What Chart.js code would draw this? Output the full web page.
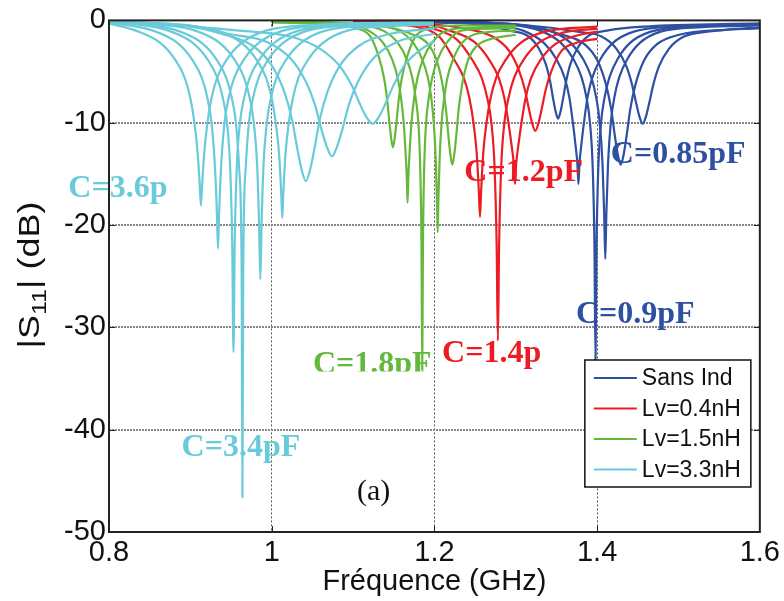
<!DOCTYPE html>
<html>
<head>
<meta charset="utf-8">
<script src="https://cdn.jsdelivr.net/npm/chart.js@4.4.0/dist/chart.umd.min.js"></script>
<style>
  html, body { margin: 0; padding: 0; background: #fff; }
  #wrap { width: 784px; height: 601px; }
</style>
</head>
<body>
<div id="wrap"><canvas id="s11Chart" width="784" height="601"></canvas></div>
<script>
// |S11| (dB) vs frequency (GHz), one curve per capacitor value, pairs are [freq, dB]
const sansInd = [
  [[1.20,-0.2],[1.26,-0.45],[1.292,-1.0],[1.3145,-1.5],[1.328,-2.7],[1.337,-4.3],[1.3423,-6.0],[1.346,-7.7],[1.349,-8.9],[1.352,-9.6],[1.355,-8.9],[1.358,-7.7],[1.3618,-6.0],[1.367,-4.3],[1.376,-2.7],[1.3895,-1.5],[1.412,-1.0],[1.46,-0.6],[1.6,-0.3]],
  [[1.20,-0.15],[1.27,-0.4],[1.309,-1.0],[1.3345,-2.2],[1.350,-3.8],[1.360,-5.6],[1.366,-7.6],[1.3702,-10],[1.3736,-12.3],[1.3757,-14],[1.377,-16],[1.3783,-14],[1.3804,-12.3],[1.3838,-10],[1.388,-7.6],[1.394,-5.6],[1.404,-3.8],[1.4195,-2.2],[1.445,-1.1],[1.5,-0.6],[1.6,-0.4]],
  [[1.20,-0.12],[1.29,-0.4],[1.33,-1.0],[1.3555,-2.2],[1.371,-3.8],[1.381,-5.6],[1.387,-7.6],[1.3912,-10],[1.3946,-14.5],[1.3967,-22],[1.398,-33.3],[1.3993,-22],[1.4014,-14.5],[1.4048,-10],[1.409,-7.6],[1.415,-5.6],[1.425,-3.8],[1.4405,-2.2],[1.466,-1.1],[1.52,-0.6],[1.6,-0.45]],
  [[1.20,-0.1],[1.30,-0.4],[1.342,-1.0],[1.3675,-2.2],[1.383,-3.8],[1.393,-5.6],[1.399,-7.6],[1.4032,-10],[1.4066,-14],[1.4087,-19],[1.410,-23.3],[1.4113,-19],[1.4134,-14],[1.4168,-10],[1.421,-7.6],[1.427,-5.6],[1.437,-3.8],[1.4525,-2.2],[1.478,-1.1],[1.53,-0.65],[1.6,-0.5]],
  [[1.20,-0.1],[1.30,-0.4],[1.357,-1.4],[1.384,-2.3],[1.4002,-3.9],[1.411,-6.3],[1.4173,-8.7],[1.4218,-11.3],[1.4254,-13.1],[1.429,-14.1],[1.4326,-13.1],[1.4362,-11.3],[1.4407,-8.7],[1.447,-6.3],[1.4578,-3.9],[1.474,-2.3],[1.501,-1.4],[1.559,-0.9],[1.6,-0.7]],
  [[1.20,-0.1],[1.31,-0.45],[1.376,-1.1],[1.406,-1.6],[1.424,-2.8],[1.436,-4.5],[1.443,-6.3],[1.448,-8.1],[1.452,-9.4],[1.456,-10.1],[1.460,-9.4],[1.464,-8.1],[1.469,-6.3],[1.476,-4.5],[1.488,-2.8],[1.506,-1.6],[1.536,-1.1],[1.6,-0.75]]
];

const lv04 = [
  [[1.10,-0.15],[1.15,-0.35],[1.176,-0.6],[1.206,-1.6],[1.224,-3.8],[1.236,-5.6],[1.243,-7.6],[1.248,-10],[1.252,-13],[1.2545,-16.5],[1.256,-19.2],[1.2575,-16.5],[1.260,-13],[1.264,-10],[1.269,-7.6],[1.276,-5.6],[1.288,-3.8],[1.306,-2.2],[1.336,-1.1],[1.4,-0.6]],
  [[1.10,-0.12],[1.17,-0.35],[1.198,-0.8],[1.228,-1.9],[1.246,-3.8],[1.258,-5.6],[1.265,-7.6],[1.270,-10],[1.274,-14.5],[1.2765,-22],[1.278,-31.3],[1.2795,-22],[1.282,-14.5],[1.286,-10],[1.291,-7.6],[1.298,-5.6],[1.310,-3.8],[1.328,-2.2],[1.358,-1.2],[1.4,-0.8]],
  [[1.10,-0.1],[1.19,-0.4],[1.219,-1.0],[1.249,-2.1],[1.267,-3.8],[1.279,-5.6],[1.286,-7.6],[1.291,-10],[1.295,-12.3],[1.2975,-14],[1.299,-16],[1.3005,-14],[1.303,-12.3],[1.307,-10],[1.312,-7.6],[1.319,-5.6],[1.331,-3.8],[1.349,-2.3],[1.379,-1.4],[1.4,-1.1]],
  [[1.10,-0.1],[1.20,-0.4],[1.25,-1.0],[1.274,-1.7],[1.292,-3.0],[1.304,-4.9],[1.311,-6.7],[1.316,-8.6],[1.320,-10.0],[1.324,-10.8],[1.328,-10.0],[1.332,-8.6],[1.337,-6.7],[1.344,-4.9],[1.356,-3.0],[1.374,-2.2],[1.4,-1.8]]
];

const lv15 = [
  [[1.00,-0.2],[1.07,-0.4],[1.105,-0.8],[1.1215,-1.6],[1.1314,-3.5],[1.138,-5.6],[1.1418,-7.7],[1.1446,-9.9],[1.1468,-11.5],[1.149,-12.4],[1.1512,-11.5],[1.1534,-9.9],[1.1562,-7.7],[1.160,-5.6],[1.1666,-3.5],[1.1765,-1.6],[1.193,-0.8],[1.228,-0.5],[1.3,-0.5]],
  [[1.00,-0.15],[1.09,-0.4],[1.119,-1.0],[1.137,-2.2],[1.148,-3.8],[1.1548,-5.6],[1.159,-7.6],[1.1622,-10],[1.1646,-13],[1.1661,-15.5],[1.167,-17.8],[1.1679,-15.5],[1.1694,-13],[1.1718,-10],[1.175,-7.6],[1.1792,-5.6],[1.186,-3.8],[1.197,-2.2],[1.215,-1.0],[1.25,-0.7],[1.3,-0.6]],
  [[1.00,-0.12],[1.10,-0.4],[1.137,-1.0],[1.155,-2.2],[1.166,-3.8],[1.1728,-5.6],[1.177,-7.6],[1.1802,-10],[1.1826,-14.5],[1.1841,-22],[1.185,-34.2],[1.1859,-22],[1.1874,-14.5],[1.1898,-10],[1.193,-7.6],[1.1972,-5.6],[1.204,-3.8],[1.215,-2.2],[1.233,-1.0],[1.27,-0.8],[1.3,-0.75]],
  [[1.00,-0.1],[1.12,-0.45],[1.156,-1.0],[1.174,-2.2],[1.185,-3.8],[1.192,-5.6],[1.1962,-7.6],[1.1992,-10],[1.2016,-13.5],[1.2031,-17.5],[1.204,-20.7],[1.2049,-17.5],[1.2064,-13.5],[1.2088,-10],[1.212,-7.6],[1.216,-5.6],[1.223,-3.8],[1.234,-2.2],[1.252,-1.3],[1.3,-1.0]],
  [[1.00,-0.1],[1.13,-0.5],[1.174,-1.4],[1.192,-2.3],[1.2028,-3.9],[1.210,-6.3],[1.2142,-8.7],[1.2172,-11.3],[1.2196,-13.1],[1.222,-14.1],[1.2244,-13.1],[1.2268,-11.3],[1.2298,-8.7],[1.234,-6.3],[1.2412,-3.9],[1.252,-2.5],[1.27,-1.8],[1.3,-1.4]]
];

const lv33 = [
  [[0.80,-0.3],[0.833,-1.0],[0.863,-2.2],[0.881,-3.8],[0.893,-5.6],[0.900,-7.6],[0.905,-10],[0.909,-13],[0.9115,-16],[0.913,-18.1],[0.9145,-16],[0.917,-13],[0.921,-10],[0.926,-7.6],[0.933,-5.6],[0.945,-3.8],[0.963,-2.2],[0.993,-1.0],[1.05,-0.45],[1.2,-0.15]],
  [[0.80,-0.2],[0.854,-1.0],[0.884,-2.2],[0.902,-3.8],[0.914,-5.6],[0.921,-7.6],[0.926,-10],[0.930,-14],[0.9325,-18.5],[0.934,-22.3],[0.9355,-18.5],[0.938,-14],[0.942,-10],[0.947,-7.6],[0.954,-5.6],[0.966,-3.8],[0.984,-2.2],[1.014,-1.0],[1.08,-0.45],[1.2,-0.2]],
  [[0.80,-0.15],[0.83,-0.35],[0.873,-1.0],[0.903,-2.2],[0.921,-3.8],[0.933,-5.6],[0.940,-7.6],[0.945,-10],[0.949,-14.5],[0.9515,-22],[0.953,-32.4],[0.9545,-22],[0.957,-14.5],[0.961,-10],[0.966,-7.6],[0.973,-5.6],[0.985,-3.8],[1.003,-2.2],[1.033,-1.0],[1.1,-0.45],[1.2,-0.25]],
  [[0.80,-0.12],[0.84,-0.35],[0.884,-1.0],[0.914,-2.2],[0.932,-3.8],[0.944,-5.6],[0.951,-7.6],[0.956,-10],[0.960,-14.5],[0.963,-24],[0.964,-46.6],[0.965,-24],[0.968,-14.5],[0.972,-10],[0.977,-7.6],[0.984,-5.6],[0.996,-3.8],[1.014,-2.2],[1.044,-1.0],[1.11,-0.45],[1.2,-0.25]],
  [[0.80,-0.1],[0.86,-0.4],[0.906,-1.0],[0.936,-2.2],[0.954,-3.8],[0.966,-5.6],[0.973,-7.6],[0.978,-10],[0.982,-14],[0.9845,-20],[0.986,-25.3],[0.9875,-20],[0.990,-14],[0.994,-10],[0.999,-7.6],[1.006,-5.6],[1.018,-3.8],[1.036,-2.2],[1.066,-1.0],[1.13,-0.5],[1.2,-0.3]],
  [[0.80,-0.1],[0.89,-0.45],[0.933,-1.0],[0.963,-2.2],[0.981,-3.8],[0.993,-5.6],[1.000,-7.6],[1.005,-10],[1.009,-13],[1.0115,-16.5],[1.013,-19.3],[1.0145,-16.5],[1.017,-13],[1.021,-10],[1.026,-7.6],[1.033,-5.6],[1.045,-3.8],[1.063,-2.2],[1.093,-1.0],[1.15,-0.55],[1.2,-0.4]],
  [[0.80,-0.15],[0.90,-0.6],[0.938,-1.3],[0.977,-2.5],[1.000,-4.4],[1.016,-7.1],[1.025,-9.7],[1.0316,-12.6],[1.0368,-14.6],[1.042,-15.7],[1.0472,-14.6],[1.0524,-12.6],[1.059,-9.7],[1.068,-7.1],[1.084,-4.4],[1.107,-2.5],[1.146,-1.3],[1.2,-0.8]],
  [[0.80,-0.15],[0.90,-0.5],[0.946,-1.3],[0.994,-2.1],[1.023,-3.7],[1.042,-6.0],[1.053,-8.2],[1.061,-10.6],[1.068,-12.4],[1.074,-13.3],[1.080,-12.4],[1.087,-10.6],[1.095,-8.2],[1.106,-6.0],[1.125,-3.7],[1.154,-2.1],[1.2,-1.3]],
  [[0.80,-0.2],[0.90,-0.6],[0.96,-1.0],[1.024,-1.6],[1.060,-2.8],[1.084,-4.5],[1.098,-6.3],[1.108,-8.1],[1.116,-9.4],[1.124,-10.1],[1.132,-9.4],[1.140,-8.1],[1.150,-6.3],[1.164,-4.3],[1.184,-2.8],[1.2,-2.0]]
];

const seriesLabels = ['Sans Ind', 'Lv=0.4nH', 'Lv=1.5nH', 'Lv=3.3nH'];
const seriesColors = ['#2d50a2', '#ed1c24', '#64b93c', '#69cbda'];
const seriesCurves = [sansInd, lv04, lv15, lv33];

// capacitor labels: text, colour index, anchor (freq, dB)
const capLabels = [
  ['C=3.6p', 3, 0.750, -17.3],
  ['C=1.2pF', 1, 1.2368, -15.7],
  ['C=0.85pF', 0, 1.4168, -13.9],
  ['C=0.9pF', 0, 1.3739, -29.6],
  ['C=1.4p', 1, 1.2094, -33.4],
  ['C=1.8pF', 2, 1.0507, -34.5],
  ['C=3.4pF', 3, 0.8892, -42.6]
];

const sansFont = "'Liberation Sans', Arial, sans-serif";
const serifFont = "'Liberation Serif', 'Times New Roman', serif";

// last series first so the cyan curves end up on top
const datasets = [];
for (let s = seriesCurves.length - 1; s >= 0; s--) {
  seriesCurves[s].forEach(curve => {
    datasets.push({
      label: seriesLabels[s],
      data: curve.map(p => ({ x: p[0], y: p[1] })),
      borderColor: seriesColors[s],
      borderWidth: 2.2,
      pointRadius: 0,
      fill: false,
      cubicInterpolationMode: 'monotone'
    });
  });
}

const framePlugin = {
  id: 'framePlugin',
  afterDraw(chart) {
    const ctx = chart.ctx;
    const area = chart.chartArea;
    const xs = chart.scales.x;
    const ys = chart.scales.y;

    // capacitor labels
    ctx.save();
    ctx.font = 'bold 32px ' + serifFont;
    ctx.textAlign = 'left';
    ctx.textBaseline = 'alphabetic';
    capLabels.forEach(l => {
      const px = xs.getPixelForValue(l[2]);
      const py = ys.getPixelForValue(l[3]);
      ctx.save();
      if (l[0] === 'C=1.8pF') {
        ctx.beginPath();
        ctx.rect(0, 0, chart.width, py - 2);
        ctx.clip();
      }
      ctx.fillStyle = seriesColors[l[1]];
      ctx.fillText(l[0], px, py);
      ctx.restore();
    });
    ctx.font = '30px ' + serifFont;
    ctx.fillStyle = '#111';
    ctx.fillText('(a)', xs.getPixelForValue(1.1047), ys.getPixelForValue(-46.9));
    ctx.restore();

    // frame + inward ticks
    ctx.save();
    ctx.strokeStyle = '#222';
    ctx.lineWidth = 2;
    ctx.strokeRect(area.left, area.top, area.right - area.left, area.bottom - area.top);
    ctx.lineWidth = 1;
    [1.0, 1.2, 1.4].forEach(v => {
      const px = Math.round(xs.getPixelForValue(v)) + 0.5;
      ctx.beginPath();
      ctx.moveTo(px, area.bottom); ctx.lineTo(px, area.bottom - 6);
      ctx.moveTo(px, area.top); ctx.lineTo(px, area.top + 6);
      ctx.stroke();
    });
    [-10, -20, -30, -40].forEach(v => {
      const py = Math.round(ys.getPixelForValue(v)) + 0.5;
      ctx.beginPath();
      ctx.moveTo(area.left, py); ctx.lineTo(area.left + 6, py);
      ctx.moveTo(area.right, py); ctx.lineTo(area.right - 6, py);
      ctx.stroke();
    });
    ctx.restore();

    // legend box
    ctx.save();
    const lx = area.right - 175, ly = area.bottom - 172, lw = 166, lh = 127;
    ctx.fillStyle = '#fff';
    ctx.fillRect(lx, ly, lw, lh);
    ctx.strokeStyle = '#111';
    ctx.lineWidth = 1.5;
    ctx.strokeRect(lx, ly, lw, lh);
    ctx.font = '23px ' + sansFont;
    ctx.textBaseline = 'middle';
    ctx.textAlign = 'left';
    seriesLabels.forEach((lab, i) => {
      const ry = ly + 18 + i * 30.5;
      ctx.strokeStyle = seriesColors[i];
      ctx.lineWidth = 2;
      ctx.beginPath();
      ctx.moveTo(lx + 9, ry); ctx.lineTo(lx + 52, ry);
      ctx.stroke();
      ctx.fillStyle = '#111';
      ctx.fillText(lab, lx + 57, ry + 1);
    });
    ctx.restore();

    // axis titles
    ctx.save();
    ctx.fillStyle = '#111';
    ctx.font = '29px ' + sansFont;
    ctx.textAlign = 'center';
    ctx.textBaseline = 'alphabetic';
    ctx.fillText('Fréquence (GHz)', (area.left + area.right) / 2, 590);

    ctx.translate(39, 275);
    ctx.rotate(-Math.PI / 2);
    ctx.scale(1.2, 1);
    ctx.textAlign = 'left';
    const big = '30px ' + sansFont, small = '21px ' + sansFont;
    ctx.font = big; const w1 = ctx.measureText('|S').width;
    ctx.font = small; const w2 = ctx.measureText('11').width;
    ctx.font = big; const w3 = ctx.measureText('| (dB)').width;
    let x0 = -(w1 + w2 + w3) / 2;
    ctx.font = big; ctx.fillText('|S', x0, 0);
    ctx.font = small; ctx.fillText('11', x0 + w1, 7);
    ctx.font = big; ctx.fillText('| (dB)', x0 + w1 + w2, 0);
    ctx.restore();
  }
};

const edgeColor = (lo, hi, col) => c => {
  const v = c.tick ? c.tick.value : null;
  return (v === null || Math.abs(v - lo) < 1e-6 || Math.abs(v - hi) < 1e-6) ? 'rgba(0,0,0,0)' : col;
};

new Chart(document.getElementById('s11Chart'), {
  type: 'line',
  data: { datasets: datasets },
  options: {
    responsive: false,
    animation: false,
    devicePixelRatio: 1,
    layout: { padding: { left: 0, top: 19, right: 23, bottom: 0 } },
    plugins: {
      legend: { display: false },
      tooltip: { enabled: false }
    },
    scales: {
      x: {
        type: 'linear',
        min: 0.8,
        max: 1.6,
        afterFit: s => { s.height = 69; },
        grid: { color: edgeColor(0.8, 1.6, '#555'), lineWidth: 1, drawTicks: false },
        border: { display: false, dash: [2, 2] },
        ticks: {
          stepSize: 0.2,
          padding: 4,
          color: '#111',
          font: { family: sansFont, size: 29 },
          callback: v => String(Number(v.toFixed(1)))
        }
      },
      y: {
        min: -50,
        max: 0,
        afterFit: s => { s.width = 109; },
        grid: { color: edgeColor(-50, 0, '#888'), lineWidth: 2, drawTicks: false },
        border: { display: false, dash: [2, 1] },
        ticks: {
          stepSize: 10,
          padding: 3,
          color: '#111',
          font: { family: sansFont, size: 29 }
        }
      }
    }
  },
  plugins: [framePlugin]
});
</script>
</body>
</html>
